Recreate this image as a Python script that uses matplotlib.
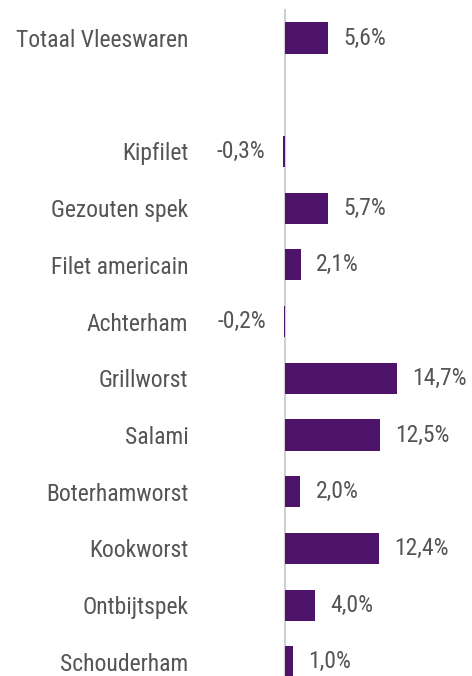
import numpy as np
import matplotlib
matplotlib.use("Agg")
import matplotlib.pyplot as plt

categories = ["Totaal Vleeswaren", "Kipfilet", "Gezouten spek", "Filet americain",
              "Achterham", "Grillworst", "Salami", "Boterhamworst", "Kookworst",
              "Ontbijtspek", "Schouderham"]
values = [5.6, -0.3, 5.7, 2.1, -0.2, 14.7, 12.5, 2.0, 12.4, 4.0, 1.0]
value_labels = ["5,6%", "-0,3%", "5,7%", "2,1%", "-0,2%", "14,7%", "12,5%",
                "2,0%", "12,4%", "4,0%", "1,0%"]

plt.rcParams['font.family'] = ['Roboto Condensed', 'Liberation Sans Narrow', 'Roboto', 'DejaVu Sans']

bar_color = "#4e136b"
text_color = "#555555"

# leave one empty slot under the total
pos = np.array([0] + list(range(2, len(categories) + 1)))

fig = plt.figure(figsize=(4.72, 6.76), dpi=100)
ax = fig.add_axes([198 / 472, 0, 1 - 198 / 472, 1])

ax.barh(pos, values, height=0.55, color=bar_color)
ax.axvline(0, color="#d0d0d0", linewidth=1.5, ymax=1 - 10 / 676, zorder=0)

for p, v, lab in zip(pos, values, value_labels):
    if v >= 0:
        ax.annotate(lab, (v, p), xytext=(11, 0), textcoords="offset points",
                    ha="left", va="center", fontsize=17, color=text_color)
    else:
        ax.annotate(lab, (v, p), xytext=(-12.5, 0), textcoords="offset points",
                    ha="right", va="center", fontsize=17, color=text_color)

ax.set_yticks(pos)
ax.set_yticklabels(categories, fontsize=17, color=text_color)
ax.tick_params(axis="y", length=0, pad=7)
ax.set_xticks([])
for s in ax.spines.values():
    s.set_visible(False)

ax.set_xlim(-11.45, 24.6)
ax.set_ylim(11.25, -0.67)

fig.savefig("out.png", dpi=100)
